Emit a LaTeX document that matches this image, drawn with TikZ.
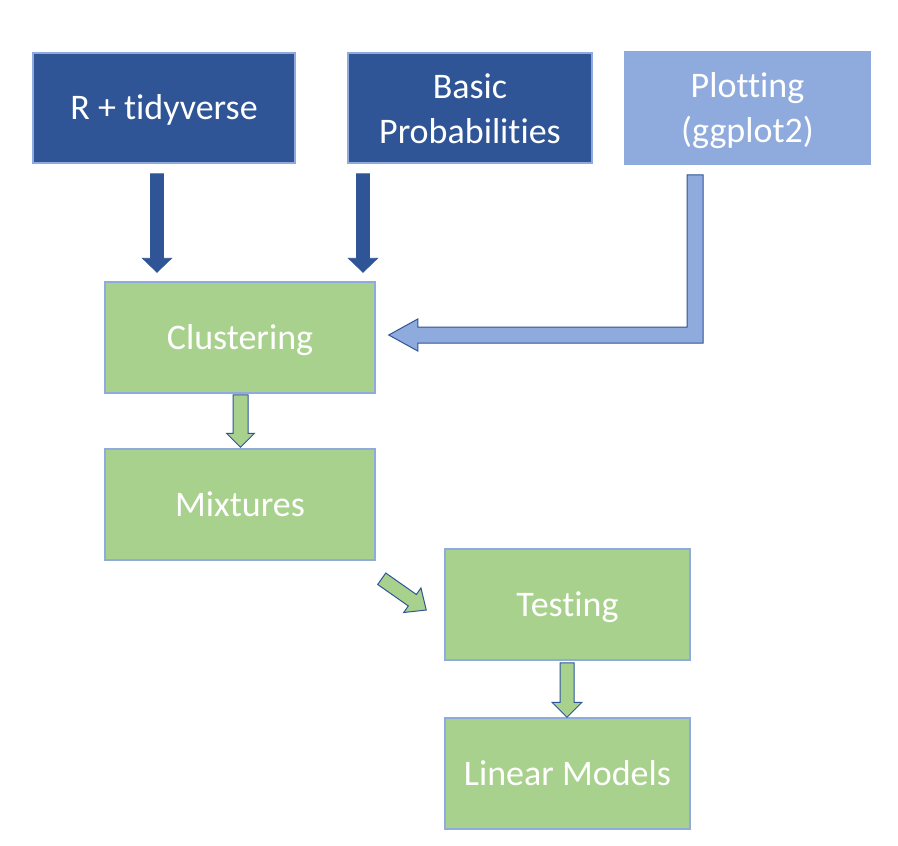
\documentclass[tikz,border=0pt]{standalone}
\usepackage{fontspec}
\setmainfont{Carlito}[Ligatures=CommonOff]
\usetikzlibrary{calc}
\definecolor{dkblue}{HTML}{2F5597}
\definecolor{ltblue}{HTML}{8FAADC}
\definecolor{grn}{HTML}{A9D18E}
\tikzset{
  box/.style={draw=ltblue, line width=1.5pt, text=white, align=center,
    inner sep=0pt, font=\fontsize{36}{42}\selectfont, text height=27pt, text depth=4pt},
  lbl/.style={text=white, align=center, inner sep=0pt, font=\fontsize{36}{45}\selectfont, yshift=-0.5pt},
  topbox/.style={box, fill=dkblue, minimum height=110pt},
  lightbox/.style={box, fill=ltblue, minimum height=112pt},
  greenbox/.style={box, fill=grn, minimum height=111pt},
  darkarrow/.style={fill=dkblue, draw=dkblue, line width=0.8pt, line join=miter},
  lightarrow/.style={fill=ltblue, draw=dkblue, line width=1pt, line join=miter},
  greenarrow/.style={fill=grn, draw=dkblue, line width=1pt, line join=miter},
}
\newcommand\blockarrow[6]{%
  \coordinate (ba-b) at ($(#3)!#6!(#2)$);
  \filldraw[#1] ($(#2)!#4!90:(#3)$) -- ($(ba-b)!#4!90:(#3)$) -- ($(ba-b)!#5!90:(#3)$) -- (#3)
    -- ($(ba-b)!#5!-90:(#3)$) -- ($(ba-b)!#4!-90:(#3)$) -- ($(#2)!#4!-90:(#3)$) -- cycle;
}
\begin{document}
\begin{tikzpicture}[x=1pt, y=-1pt]
\useasboundingbox (0,0) rectangle (898,846);
\fill[white] (0,0) rectangle (898,846);
% nodes
\node[topbox, minimum width=262pt] (rt) at (164,108) {R + tidyverse};
\node[topbox, minimum width=244pt, label={[lbl]center:Basic\\Probabilities}] (bp) at (470,108) {};
\node[lightbox, minimum width=245pt, label={[lbl, yshift=-2.5pt]center:Plotting\\(ggplot2)}] (pl) at (747.5,108) {};
\node[greenbox, minimum width=270pt] (cl) at (240,337.5) {Clustering};
\node[greenbox, minimum width=270pt] (mx) at (240,504.5) {Mixtures};
\node[greenbox, minimum width=245pt] (ts) at (567.5,604.5) {Testing};
\node[greenbox, minimum width=245pt] (lm) at (567.5,773.5) {Linear Models};
% arrows
\coordinate (a1s) at ($(rt.south)+(-7,10)$);
\coordinate (a1e) at ($(cl.north)+(-83,-9)$);
\blockarrow{darkarrow}{a1s}{a1e}{6.5pt}{14.5pt}{14pt}
\coordinate (a2s) at ($(bp.south)+(-107,10)$);
\coordinate (a2e) at ($(cl.north)+(123,-9)$);
\blockarrow{darkarrow}{a2s}{a2e}{6.5pt}{14.5pt}{14pt}
% elbow arrow
\coordinate (p0) at ($(pl.south)+(-52.5,10)$);
\coordinate (p1) at ($(cl.east)+(13,-2.5)$);
\coordinate (pc) at (p0 |- p1);
\filldraw[lightarrow] ($(p0)+(-8,0)$) -- ($(pc)+(-8,-8)$) -- ($(p1)+(29,-8)$) -- ($(p1)+(29,-16)$)
  -- (p1) -- ($(p1)+(29,16)$) -- ($(p1)+(29,8)$) -- ($(pc)+(8,8)$) -- ($(p0)+(8,0)$) -- cycle;
% green arrows
\coordinate (a3s) at ($(cl.south)+(0.5,1)$);
\coordinate (a3e) at ($(mx.north)+(0.5,-1)$);
\blockarrow{greenarrow}{a3s}{a3e}{7.5pt}{14pt}{14pt}
\coordinate (a4s) at ($(mx.south east)+(6,18)$);
\coordinate (a4e) at ($(ts.west)+(-18,5.5)$);
\blockarrow{greenarrow}{a4s}{a4e}{7pt}{15pt}{17pt}
\coordinate (a5s) at ($(ts.south)+(-0.5,2)$);
\coordinate (a5e) at ($(lm.north)+(-0.5,0)$);
\blockarrow{greenarrow}{a5s}{a5e}{7pt}{15pt}{15pt}
\end{tikzpicture}
\end{document}
